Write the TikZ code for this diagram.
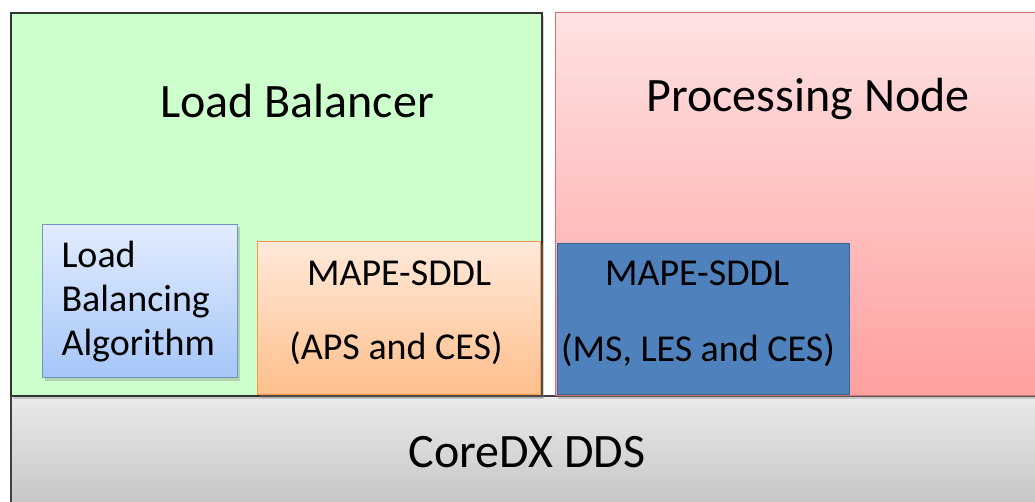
\documentclass[tikz,border=0pt]{standalone}
\usepackage{fontspec}
\setmainfont{Carlito}
\usetikzlibrary{shadows}
\definecolor{grnfill}{HTML}{CCFFCC}
\definecolor{pinktop}{HTML}{FFE2E2}
\definecolor{pinkbot}{HTML}{FFA0A0}
\definecolor{pinkedge}{HTML}{D07070}
\definecolor{graytop}{HTML}{EAEAEA}
\definecolor{graybot}{HTML}{C2C2C2}
\definecolor{lbtop}{HTML}{E2ECFF}
\definecolor{lbbot}{HTML}{A6C6F8}
\definecolor{lbedge}{HTML}{6F94C8}
\definecolor{ortop}{HTML}{FFE9DA}
\definecolor{orbot}{HTML}{FFBF8C}
\definecolor{oredge}{HTML}{F79646}
\definecolor{dbfill}{HTML}{4F81BD}
\definecolor{dbedge}{HTML}{3A6494}
\tikzset{
  big/.style={font=\fontsize{48}{54}\selectfont, text=black},
  small/.style={font=\fontsize{38}{44}\selectfont, text=black},
  boxshadow/.style={drop shadow={shadow xshift=2pt, shadow yshift=-3pt, opacity=0.35}},
}
\begin{document}
\begin{tikzpicture}[x=1pt,y=-1pt]
\useasboundingbox (0,0) rectangle (1035,502);
\clip (0,0) rectangle (1035,502);
\fill[white] (0,0) rectangle (1035,502);
% Gray base
\node[draw=black!75, line width=1.5pt, top color=graytop, bottom color=graybot, anchor=north west, minimum width=1040pt, minimum height=120pt, inner sep=0pt] (base) at (10,395) {};
\node[big] (baselbl) at (527,452) {CoreDX DDS};
% Green load balancer
\node[draw=black!80, line width=1.8pt, fill=grnfill, anchor=north west, minimum width=531pt, minimum height=383pt, inner sep=0pt, boxshadow] (lb) at (10,12) {};
\node[big] (lblbl) at (297,101) {Load Balancer};
% Pink processing node
\node[draw=pinkedge, line width=1.2pt, top color=pinktop, bottom color=pinkbot, anchor=north west, minimum width=490pt, minimum height=383pt, inner sep=0pt, boxshadow] (pn) at (555,12) {};
\node[big] (pnlbl) at (808,99) {Processing Node};
% Load balancing algorithm
\node[draw=lbedge, line width=1pt, top color=lbtop, bottom color=lbbot, anchor=north west, minimum width=195pt, minimum height=153pt, inner sep=0pt, boxshadow] (lba) at (42,224) {};
\node[small, align=left, anchor=west] (lbalbl) at (58,302) {Load\\Balancing\\Algorithm};
% Orange MAPE
\node[draw=oredge, line width=1pt, top color=ortop, bottom color=orbot, anchor=north west, minimum width=283pt, minimum height=153pt, inner sep=0pt, boxshadow] (mape1) at (257,241) {};
\node[small] (m1a) at (399,273) {MAPE-SDDL};
\node[small] (m1b) at (396,348) {(APS and CES)};
% Dark blue MAPE
\node[draw=dbedge, line width=1pt, fill=dbfill, anchor=north west, minimum width=292pt, minimum height=151pt, inner sep=0pt] (mape2) at (557,243) {};
\node[small] (m2a) at (697,273) {MAPE-SDDL};
\node[small] (m2b) at (698,350) {(MS, LES and CES)};
\end{tikzpicture}
\end{document}
